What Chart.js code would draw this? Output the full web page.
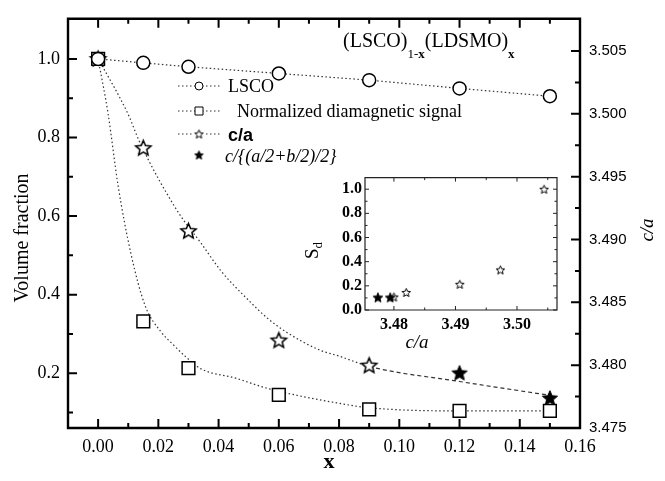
<!DOCTYPE html>
<html>
<head>
<meta charset="utf-8">
<script src="https://cdn.jsdelivr.net/npm/chart.js@4.4.1/dist/chart.umd.min.js"></script>
<style>
	html, body { margin: 0; padding: 0; background: #fff; }
	#wrap { position: relative; width: 665px; height: 481px; }
	#main { position: absolute; left: 0; top: 0; }
	#inset { position: absolute; left: 280px; top: 165px; }
</style>
</head>
<body>
<div id="wrap">
	<canvas id="main" width="665" height="481"></canvas>
	<canvas id="inset" width="285" height="195"></canvas>
</div>
<script>
// composition x of (LSCO)1-x(LDSMO)x
const xValues = [0, 0.015, 0.03, 0.06, 0.09, 0.12, 0.15];
const lscoValues = [1.0, 0.99, 0.98, 0.963, 0.946, 0.925, 0.905];
const diaValues = [1.0, 0.332, 0.213, 0.145, 0.108, 0.104, 0.104];
// c/a, the last two are c/{(a/2+b/2)/2} (filled stars)
const caValues = [3.5044, 3.4973, 3.4907, 3.4820, 3.4800, 3.4794, 3.4774];
const caFilled = [false, false, false, false, false, true, true];

// guide curves
const diaFitX = [0, 0.0033, 0.0066, 0.0109, 0.0156, 0.0209, 0.0249, 0.0289, 0.0342, 0.0454, 0.0564, 0.0803, 0.09, 0.12, 0.15];
const diaFitY = [1.0, 0.861, 0.679, 0.504, 0.372, 0.305, 0.273, 0.243, 0.211, 0.188, 0.161, 0.123, 0.112, 0.104, 0.104];
const caFitX = [0, 0.0099, 0.0139, 0.0265, 0.0342, 0.0408, 0.0498, 0.0564, 0.0627, 0.0736, 0.0803, 0.09, 0.12, 0.15];
const caFitY = [3.5044, 3.5000, 3.4977, 3.4922, 3.4897, 3.4875, 3.4852, 3.4837, 3.4826, 3.4812, 3.4807, 3.4799, 3.4787, 3.4776];

// tick labels
const xTicks = [0, 0.02, 0.04, 0.06, 0.08, 0.10, 0.12, 0.14, 0.16];
const xMinorTicks = [0.01, 0.03, 0.05, 0.07, 0.09, 0.11, 0.13, 0.15];
const yTicks = [0.2, 0.4, 0.6, 0.8, 1.0];
const yMinorTicks = [0.1, 0.3, 0.5, 0.7, 0.9];
const caTicks = [3.475, 3.480, 3.485, 3.490, 3.495, 3.500, 3.505];
const caMinorTicks = [3.4775, 3.4825, 3.4875, 3.4925, 3.4975, 3.5025];
const insetXTicks = [3.48, 3.49, 3.50];
const insetXMinorTicks = [3.485, 3.495, 3.505];
const insetYTicks = [0.0, 0.2, 0.4, 0.6, 0.8, 1.0];
const insetYMinorTicks = [0.1, 0.3, 0.5, 0.7, 0.9];

const SERIF = '"Liberation Serif", "DejaVu Serif", serif';
const SANS = '"Liberation Sans", Arial, sans-serif';
const DOTS = [1.5, 2.5];

function starImage(R, filled, lw) {
	const size = Math.ceil(2 * R + 2 * lw + 2);
	const c = document.createElement('canvas');
	c.width = size;
	c.height = size;
	const g = c.getContext('2d');
	const cx = size / 2, cy = size / 2 + 0.095 * R;
	g.beginPath();
	for (let k = 0; k < 10; k++) {
		const r = k % 2 ? R * 0.45 : R;
		const a = -Math.PI / 2 + k * Math.PI / 5;
		g.lineTo(cx + r * Math.cos(a), cy + r * Math.sin(a));
	}
	g.closePath();
	g.fillStyle = filled ? '#000' : '#fff';
	g.fill();
	g.lineWidth = lw;
	g.strokeStyle = '#000';
	g.stroke();
	return c;
}

const starOpen = starImage(8, false, 1.5);
const starFull = starImage(8, true, 1);
const starOpenSmall = starImage(4.5, false, 1);
const starFullSmall = starImage(5, true, 1);
const starLegendOpen = starImage(4.5, false, 1);
const starLegendFull = starImage(4.5, true, 1);

function pts(xs, ys) {
	return xs.map((x, i) => ({ x: x, y: ys[i] }));
}

// clean stroke state, chart.js may leave dash settings behind
function resetPen(ctx, w, color) {
	ctx.setLineDash([]);
	ctx.lineDashOffset = 0;
	ctx.globalAlpha = 1;
	ctx.globalCompositeOperation = 'source-over';
	ctx.lineCap = 'butt';
	ctx.lineJoin = 'miter';
	ctx.lineWidth = w;
	ctx.strokeStyle = color;
}

function frame(ctx, a) {
	ctx.beginPath();
	ctx.moveTo(a.left, a.top);
	ctx.lineTo(a.right, a.top);
	ctx.lineTo(a.right, a.bottom);
	ctx.lineTo(a.left, a.bottom);
	ctx.closePath();
	ctx.stroke();
}

function tickMarks(ctx, scale, values, len, side) {
	const a = scale.chart.chartArea;
	ctx.beginPath();
	values.forEach(v => {
		const p = scale.getPixelForValue(v);
		if (side === 'bottom') { ctx.moveTo(p, a.bottom); ctx.lineTo(p, a.bottom - len); }
		if (side === 'top') { ctx.moveTo(p, a.top); ctx.lineTo(p, a.top + len); }
		if (side === 'left') { ctx.moveTo(a.left, p); ctx.lineTo(a.left + len, p); }
		if (side === 'right') { ctx.moveTo(a.right, p); ctx.lineTo(a.right - len, p); }
	});
	ctx.stroke();
}

function textAt(ctx, str, x, y, font, rot, align) {
	ctx.save();
	ctx.translate(x, y);
	if (rot) ctx.rotate(rot);
	ctx.font = font;
	ctx.textAlign = align || 'center';
	ctx.textBaseline = 'middle';
	ctx.fillStyle = '#000';
	ctx.fillText(str, 0, 0);
	ctx.restore();
}

// runs of text with different fonts / baselines
function richText(ctx, parts, x, y) {
	ctx.save();
	ctx.fillStyle = '#000';
	ctx.textBaseline = 'alphabetic';
	ctx.textAlign = 'left';
	parts.forEach(p => {
		ctx.font = p.font;
		ctx.fillText(p.t, x, y + (p.dy || 0));
		x += ctx.measureText(p.t).width;
	});
	ctx.restore();
}

function dottedLine(ctx, x1, x2, y, dash) {
	ctx.save();
	resetPen(ctx, 1.2, '#333');
	ctx.setLineDash(dash || DOTS);
	ctx.beginPath();
	ctx.moveTo(x1, y);
	ctx.lineTo(x2, y);
	ctx.stroke();
	ctx.restore();
}

const mainDecor = {
	id: 'mainDecor',
	afterDraw(chart) {
		const ctx = chart.ctx;
		const a = chart.chartArea;
		const s = chart.scales;
		ctx.save();
		resetPen(ctx, 2.4, '#000');
		frame(ctx, a);
		ctx.lineWidth = 2;
		tickMarks(ctx, s.x, xTicks, 9, 'bottom');
		tickMarks(ctx, s.x, xMinorTicks, 5, 'bottom');
		tickMarks(ctx, s.x, xTicks, 9, 'top');
		tickMarks(ctx, s.x, xMinorTicks, 5, 'top');
		tickMarks(ctx, s.y, yTicks, 9, 'left');
		tickMarks(ctx, s.y, yMinorTicks, 5, 'left');
		tickMarks(ctx, s.y1, caTicks, 9, 'right');
		tickMarks(ctx, s.y1, caMinorTicks, 5, 'right');
		ctx.restore();

		// axis titles
		textAt(ctx, 'Volume fraction', 23, 238, '20px ' + SERIF, -Math.PI / 2);
		textAt(ctx, 'x', 329, 462, 'bold 22px ' + SERIF);
		textAt(ctx, 'c/a', 648, 230, 'italic 19px ' + SERIF, -Math.PI / 2);

		// (LSCO)1-x(LDSMO)x
		richText(ctx, [
			{ t: '(LSCO)', font: '20px ' + SERIF },
			{ t: '1-', font: '13px ' + SERIF, dy: 11 },
			{ t: 'x', font: 'bold 13px ' + SERIF, dy: 11 },
			{ t: '(LDSMO)', font: '20px ' + SERIF },
			{ t: 'x', font: 'bold 13px ' + SERIF, dy: 11 }
		], 343, 47);

		// legend
		dottedLine(ctx, 178, 222, 86);
		dottedLine(ctx, 178, 222, 111);
		dottedLine(ctx, 178, 222, 134);
		ctx.save();
		resetPen(ctx, 1, '#000');
		ctx.fillStyle = '#fff';
		ctx.beginPath();
		ctx.arc(199, 86, 4, 0, Math.PI * 2);
		ctx.fill();
		ctx.stroke();
		ctx.beginPath();
		ctx.rect(195, 107, 8, 8);
		ctx.fill();
		ctx.stroke();
		ctx.fillRect(194, 129, 10, 10);
		ctx.drawImage(starLegendOpen, 199 - starLegendOpen.width / 2, 134 - starLegendOpen.height / 2);
		ctx.drawImage(starLegendFull, 199 - starLegendFull.width / 2, 155 - starLegendFull.height / 2);
		ctx.restore();
		richText(ctx, [{ t: 'LSCO', font: '18px ' + SERIF }], 228, 92);
		richText(ctx, [{ t: 'Normalized diamagnetic signal', font: '18px ' + SERIF }], 237, 117);
		richText(ctx, [{ t: 'c/a', font: 'bold 18px ' + SANS }], 228, 141);
		richText(ctx, [{ t: 'c/{(a/2+b/2)/2}', font: 'italic 18px ' + SERIF }], 225, 162);
	}
};

Chart.defaults.color = '#000';

new Chart(document.getElementById('main'), {
	type: 'scatter',
	data: {
		datasets: [
			{
				label: 'LSCO',
				data: pts(xValues, lscoValues),
				yAxisID: 'y',
				showLine: true,
				borderColor: '#333',
				borderWidth: 1.2,
				borderDash: DOTS,
				pointStyle: 'circle',
				pointRadius: 6.5,
				pointBorderWidth: 1.5,
				pointBorderColor: '#000',
				pointBackgroundColor: '#fff'
			},
			{
				label: 'Normalized diamagnetic signal',
				data: pts(xValues, diaValues),
				yAxisID: 'y',
				showLine: false,
				pointStyle: 'rect',
				pointRadius: 9,
				pointBorderWidth: 1.5,
				pointBorderColor: '#000',
				pointBackgroundColor: '#fff'
			},
			{
				label: 'diamagnetic fit',
				data: pts(diaFitX, diaFitY),
				yAxisID: 'y',
				showLine: true,
				cubicInterpolationMode: 'monotone',
				borderColor: '#333',
				borderWidth: 1.2,
				borderDash: DOTS,
				pointRadius: 0
			},
			{
				label: 'c/a',
				data: pts(xValues, caValues),
				yAxisID: 'y1',
				showLine: false,
				pointStyle: caFilled.map(f => f ? starFull : starOpen)
			},
			{
				label: 'c/a fit',
				data: pts(caFitX, caFitY),
				yAxisID: 'y1',
				showLine: true,
				cubicInterpolationMode: 'monotone',
				borderColor: '#333',
				borderWidth: 1.2,
				pointRadius: 0,
				segment: {
					borderDash: ctx => ctx.p0.parsed.x >= 0.089 ? [4, 3] : DOTS
				}
			}
		]
	},
	options: {
		responsive: false,
		animation: false,
		events: [],
		layout: { padding: { top: 10, left: 0, right: 0, bottom: 0 } },
		plugins: {
			legend: { display: false },
			tooltip: { enabled: false }
		},
		scales: {
			x: {
				type: 'linear',
				min: -0.01,
				max: 0.16,
				afterBuildTicks: s => { s.ticks = xTicks.map(v => ({ value: v })); },
				afterFit: s => { s.height = 53; },
				grid: { display: false, drawTicks: false },
				border: { display: false },
				ticks: {
					callback: v => v.toFixed(2),
					font: { family: SERIF, size: 18 },
					padding: 8,
					maxRotation: 0,
					autoSkip: false
				}
			},
			y: {
				type: 'linear',
				position: 'left',
				min: 0.0605,
				max: 1.1021,
				afterBuildTicks: s => { s.ticks = yTicks.map(v => ({ value: v })); },
				afterFit: s => { s.width = 68; },
				grid: { display: false, drawTicks: false },
				border: { display: false },
				ticks: {
					callback: v => v.toFixed(1),
					font: { family: SERIF, size: 18 },
					padding: 8,
					autoSkip: false
				}
			},
			y1: {
				type: 'linear',
				position: 'right',
				min: 3.475,
				max: 3.50756,
				afterBuildTicks: s => { s.ticks = caTicks.map(v => ({ value: v })); },
				afterFit: s => { s.width = 85; },
				grid: { display: false, drawTicks: false },
				border: { display: false },
				ticks: {
					callback: v => v.toFixed(3),
					font: { family: SANS, size: 15 },
					padding: 9,
					autoSkip: false
				}
			}
		}
	},
	plugins: [mainDecor]
});

const insetDecor = {
	id: 'insetDecor',
	beforeDraw(chart) {
		const ctx = chart.ctx;
		const a = chart.chartArea;
		ctx.save();
		ctx.fillStyle = '#fff';
		ctx.fillRect(a.left, a.top, a.right - a.left, a.bottom - a.top);
		ctx.restore();
	},
	afterDraw(chart) {
		const ctx = chart.ctx;
		const a = chart.chartArea;
		const s = chart.scales;
		ctx.save();
		resetPen(ctx, 1.2, '#222');
		frame(ctx, a);
		ctx.lineWidth = 1;
		tickMarks(ctx, s.x, insetXTicks, 4, 'bottom');
		tickMarks(ctx, s.x, insetXMinorTicks, 2.5, 'bottom');
		tickMarks(ctx, s.x, insetXTicks, 4, 'top');
		tickMarks(ctx, s.x, insetXMinorTicks, 2.5, 'top');
		tickMarks(ctx, s.y, insetYTicks, 4, 'left');
		tickMarks(ctx, s.y, insetYMinorTicks, 2.5, 'left');
		tickMarks(ctx, s.y, insetYTicks, 4, 'right');
		tickMarks(ctx, s.y, insetYMinorTicks, 2.5, 'right');
		ctx.restore();

		textAt(ctx, 'c/a', 137, 178, 'italic 19px ' + SERIF);
		ctx.save();
		ctx.translate(32, 85);
		ctx.rotate(-Math.PI / 2);
		richText(ctx, [
			{ t: 'S', font: '19px ' + SERIF },
			{ t: 'd', font: '13px ' + SERIF, dy: 4 }
		], -9, 6);
		ctx.restore();
	}
};

new Chart(document.getElementById('inset'), {
	type: 'scatter',
	data: {
		datasets: [
			{
				label: 'Sd',
				data: pts(caValues, diaValues),
				showLine: false,
				pointStyle: caFilled.map(f => f ? starFullSmall : starOpenSmall)
			}
		]
	},
	options: {
		responsive: false,
		animation: false,
		events: [],
		layout: { padding: { top: 8, right: 8, left: 0, bottom: 0 } },
		plugins: {
			legend: { display: false },
			tooltip: { enabled: false }
		},
		scales: {
			x: {
				type: 'linear',
				min: 3.4753,
				max: 3.5065,
				afterBuildTicks: s => { s.ticks = insetXTicks.map(v => ({ value: v })); },
				afterFit: s => { s.height = 50; },
				grid: { display: false, drawTicks: false },
				border: { display: false },
				ticks: {
					callback: v => v.toFixed(2),
					font: { family: SERIF, size: 16, weight: 'bold' },
					padding: 5,
					maxRotation: 0,
					autoSkip: false
				}
			},
			y: {
				type: 'linear',
				min: 0,
				max: 1.096,
				afterBuildTicks: s => { s.ticks = insetYTicks.map(v => ({ value: v })); },
				afterFit: s => { s.width = 85; },
				grid: { display: false, drawTicks: false },
				border: { display: false },
				ticks: {
					callback: v => v.toFixed(1),
					font: { family: SERIF, size: 16, weight: 'bold' },
					padding: 3,
					autoSkip: false
				}
			}
		}
	},
	plugins: [insetDecor]
});
</script>
</body>
</html>
